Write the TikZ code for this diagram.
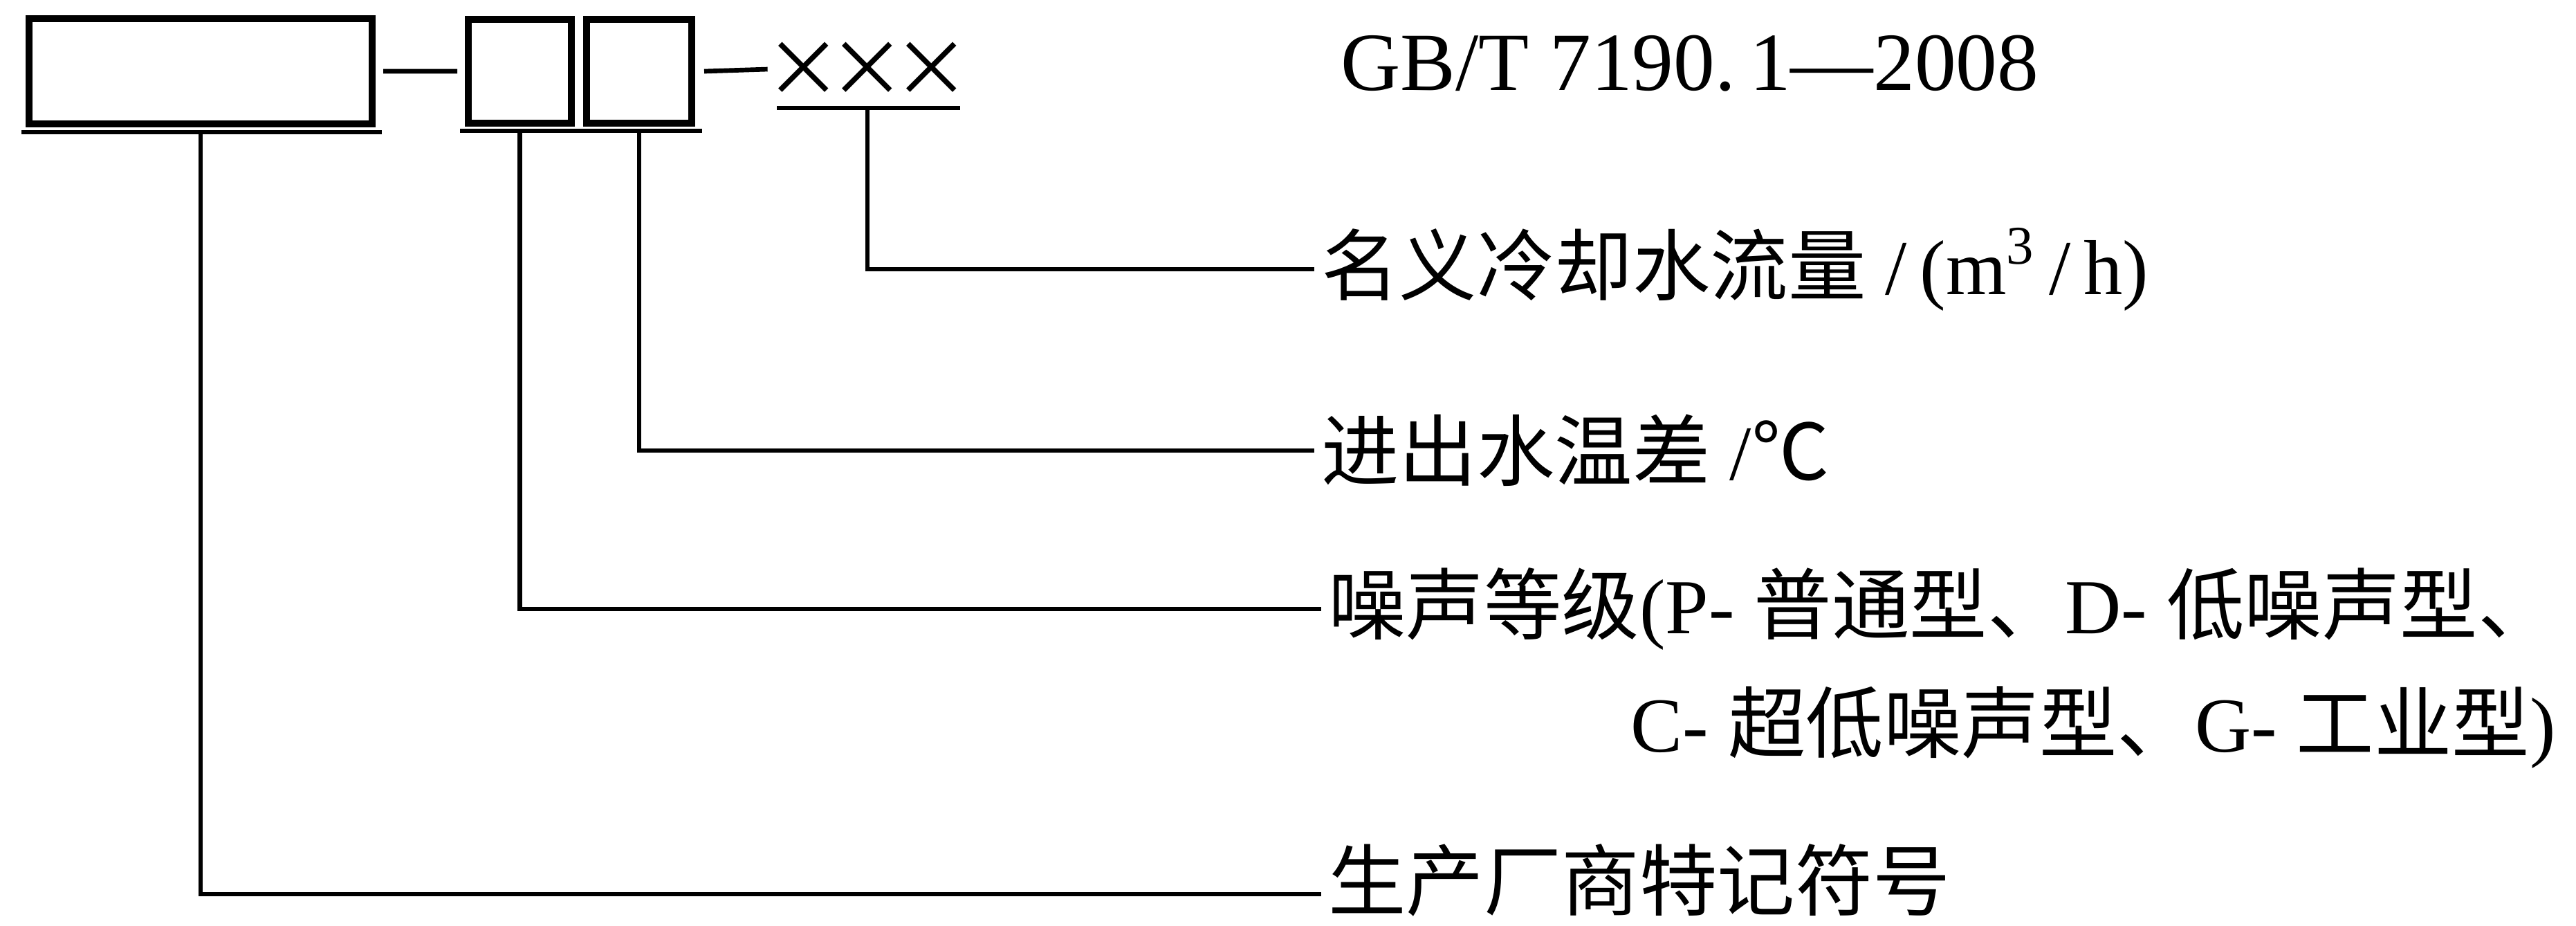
\documentclass[tikz,border=0pt]{standalone}
\usepackage{fontspec}
\setmainfont{Liberation Serif}
\newfontfamily\cjk{Noto Sans CJK SC}
\usetikzlibrary{positioning}

\begin{document}
\begin{tikzpicture}[line width=0.95pt,font=\fontsize{16pt}{19pt}\selectfont,
      box/.style={draw,line width=1.4pt,inner sep=0pt,outer sep=0pt},
      lbl/.style={anchor=west,inner xsep=1pt,inner ysep=0pt}]
  \useasboundingbox (0,0) rectangle (18.62,-6.685);
  \node[box, minimum width=2.48cm, minimum height=0.76cm] (mfr) at (1.45,-0.515) {};
  \node[box, minimum width=0.745cm, minimum height=0.75cm] (noise) [right=0.695cm of mfr] {};
  \node[box, minimum width=0.76cm, minimum height=0.75cm] (temp) [right=0.11cm of noise] {};
  \node[inner sep=0pt] (xxx) at (6.27,-0.5) {\cjk ×\kern-2.8pt×\kern-2.8pt×};
  \node[lbl, inner xsep=0pt, font=\fontsize{17pt}{20pt}\selectfont] (std) at (9.675,-0.46) {GB/T 7190.\,1—2008};
  \coordinate (mfrA) at ([shift={(-0.055,-0.06)}]mfr.south west);
  \coordinate (mfrB) at ([shift={(0.07,-0.06)}]mfr.south east);
  \coordinate (boxA) at ([shift={(-0.06,-0.055)}]noise.south west);
  \coordinate (boxB) at ([shift={(0.075,-0.055)}]temp.south east);
  \coordinate (xxxA) at (5.615,-0.78);
  \coordinate (xxxB) at (6.94,-0.78);
  \node[lbl] (flowlbl) at (9.5,-1.945) {{\cjk 名义冷却水流量} /\,(m\textsuperscript{3}\,/\,h)};
  \node[lbl] (templbl) at (9.5,-3.255) {{\cjk 进出水温差} /{\cjk ℃}};
  \node[lbl] (noiselbl) at (9.55,-4.4) {{\cjk 噪声等级}(P- {\cjk 普通型、}D- {\cjk 低噪声型、}};
  \node[lbl, anchor=east] (noiselbl2) at ([yshift=-0.855cm]noiselbl.east) {C- {\cjk 超低噪声型、}G- {\cjk 工业型})};
  \node[lbl] (mfrlbl) at (9.55,-6.36) {\cjk 生产厂商特记符号};
  \draw (mfrA) -- (mfrB) (boxA) -- (boxB) (xxxA) -- (xxxB);
  \draw ([xshift=0.08cm]mfr.east) -- ([xshift=-0.08cm]noise.west)
        ([xshift=0.09cm]temp.east) -- ([xshift=0.04cm]xxx.west);
  \draw (xxx.south |- xxxA) |- (flowlbl.west);
  \draw (temp.south |- boxA) |- (templbl.west);
  \draw (noise.south |- boxA) |- (noiselbl.west);
  \draw (mfr.south |- mfrA) |- ([yshift=-0.1cm]mfrlbl.west);
\end{tikzpicture}
\end{document}
